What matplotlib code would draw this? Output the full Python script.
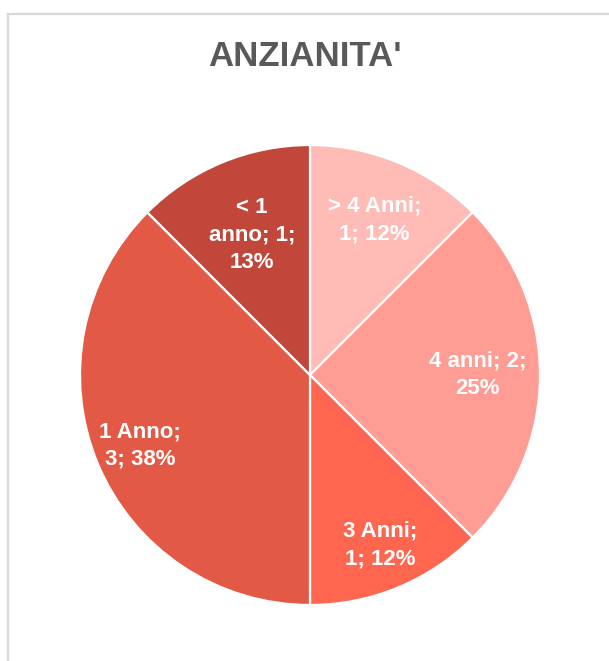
import numpy as np
import matplotlib.pyplot as plt
from matplotlib.lines import Line2D

# Anzianita' data (clockwise from 12 o'clock)
categories = ["> 4 Anni", "4 anni", "3 Anni", "1 Anno", "< 1\nanno"]
values = [1, 2, 1, 3, 1]
pct_labels = ["12%", "25%", "12%", "38%", "13%"]
colors = ["#FFBCB7", "#FF9C93", "#FF6650", "#E25A46", "#C0473A"]

# label text layout tweaks (line breaks + how far out from centre)
label_texts = [
    "> 4 Anni;\n{v}; {p}",
    "4 anni; {v};\n{p}",
    "3 Anni;\n{v}; {p}",
    "1 Anno;\n{v}; {p}",
    "< 1\nanno; {v};\n{p}",
]
label_dist = [0.73, 0.73, 0.80, 0.80, 0.66]

W, H = 609, 661
fig = plt.figure(figsize=(W / 100, H / 100), dpi=100)

# light gray chart frame (only top/left visible in the crop)
fig.add_artist(Line2D([8 / W, 8 / W], [0, 1 - 14 / H], color="#D9D9D9", lw=1.6,
                      transform=fig.transFigure))
fig.add_artist(Line2D([8 / W, 1], [1 - 14 / H, 1 - 14 / H], color="#D9D9D9", lw=1.6,
                      transform=fig.transFigure))

fig.text(305 / W, 1 - 57 / H, "ANZIANITA'", ha="center", va="center",
         fontsize=25, fontweight="bold", color="#595959", family="Liberation Sans")

cx, cy, r = 310, 375, 230
ax = fig.add_axes([(cx - r) / W, (H - cy - r) / H, 2 * r / W, 2 * r / H])
wedges, _ = ax.pie(values, colors=colors, startangle=90, counterclock=False,
                   radius=1, wedgeprops=dict(edgecolor="white", linewidth=1.6))
ax.set_xlim(-1, 1)
ax.set_ylim(-1, 1)
ax.set_aspect("equal")
ax.axis("off")

for w, tmpl, v, p, d in zip(wedges, label_texts, values, pct_labels, label_dist):
    ang = np.deg2rad((w.theta1 + w.theta2) / 2)
    ax.text(d * np.cos(ang), d * np.sin(ang), tmpl.format(v=v, p=p),
            ha="center", va="center", color="white", fontsize=16,
            fontweight="bold", family="Liberation Sans", linespacing=1.4)

fig.savefig("out.png", dpi=100)
